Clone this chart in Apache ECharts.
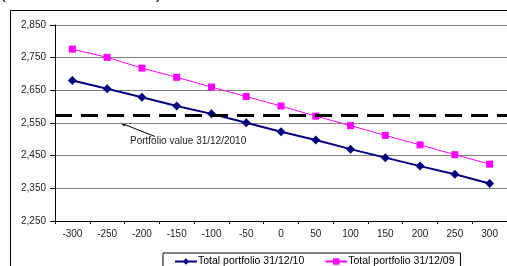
<!DOCTYPE html>
<html>
<head>
<meta charset="utf-8">
<script src="https://cdn.jsdelivr.net/npm/echarts@6/dist/echarts.min.js"></script>
<style>
  html, body { margin: 0; padding: 0; background: #fff; }
  #chart { width: 507px; height: 266px; }
</style>
</head>
<body>
<div id="chart"></div>
<script>
// shocks (USD millions) on the x axis
const shocks = ['-300', '-250', '-200', '-150', '-100', '-50', '0', '50', '100', '150', '200', '250', '300'];
// Total portfolio 31/12/10
const portfolio2010 = [2680, 2655, 2629, 2602, 2578, 2551, 2523, 2498, 2470, 2444, 2418, 2393, 2365];
// Total portfolio 31/12/09
const portfolio2009 = [2776, 2751, 2718, 2690, 2660, 2631, 2602, 2571, 2542, 2512, 2483, 2453, 2424];
// portfolio value reference line
const portfolioValue = 2574;
const yTicks = [2250, 2350, 2450, 2550, 2650, 2750, 2850];

const FONT = '"Liberation Sans", Arial, sans-serif';
const chart = echarts.init(document.getElementById('chart'));

chart.setOption({
  animation: false,
  grid: { left: 55, top: 25, width: 456, height: 196 },
  xAxis: {
    type: 'category',
    data: shocks,
    boundaryGap: true,
    axisLine: { lineStyle: { color: '#000', width: 1 } },
    axisTick: { show: true, length: 3, lineStyle: { color: '#000' } },
    axisLabel: { color: '#222', fontSize: 10, fontFamily: FONT, margin: 8 },
    splitLine: { show: false }
  },
  yAxis: {
    type: 'value',
    min: yTicks[0],
    max: yTicks[yTicks.length - 1],
    interval: 100,
    axisLine: { show: true, lineStyle: { color: '#000', width: 1 } },
    axisTick: { show: true, length: 5, inside: false, lineStyle: { color: '#000' } },
    axisLabel: {
      color: '#222', fontSize: 10, fontFamily: FONT, margin: 9,
      formatter: v => v.toLocaleString('en-US')
    },
    splitLine: { show: true, lineStyle: { color: '#808080', width: 1 } }
  },
  legend: {
    orient: 'horizontal',
    top: 253,
    left: 163,
    padding: [3, 6, 10, 11],
    itemGap: 20,
    itemWidth: 22,
    itemHeight: 8,
    borderColor: '#000',
    borderWidth: 1,
    borderRadius: 0,
    textStyle: { fontSize: 10.5, fontFamily: FONT, color: '#000', padding: [0, 0, 0, -4] },
    data: ['Total portfolio 31/12/10', 'Total portfolio 31/12/09']
  },
  graphic: [
    {
      type: 'rect', silent: true, z: -1,
      shape: { x: 10.5, y: 10.5, width: 520, height: 300 },
      style: { fill: 'none', stroke: '#000', lineWidth: 1 }
    },
    {
      type: 'text', x: 0, y: -14,
      style: { text: '(en millones de USD)', fontSize: 17, fontFamily: FONT, fill: '#000' }
    },
    {
      type: 'line',
      shape: { x1: 155, y1: 136.5, x2: 122, y2: 123.5 },
      style: { stroke: '#000', lineWidth: 1 }
    },
    {
      type: 'polygon',
      shape: { points: [[120, 122.7], [126, 123.3], [124.6, 126.6]] },
      style: { fill: '#000' }
    },
    {
      type: 'text', x: 130, y: 136,
      style: { text: 'Portfolio value 31/12/2010', fontSize: 10, fontFamily: FONT, fill: '#222' }
    }
  ],
  series: [
    {
      name: 'Total portfolio 31/12/10',
      type: 'line',
      data: portfolio2010,
      color: '#000080',
      symbol: 'diamond',
      symbolSize: 9,
      lineStyle: { color: '#000080', width: 2 },
      itemStyle: { color: '#000080' },
      z: 3
    },
    {
      name: 'Total portfolio 31/12/09',
      type: 'line',
      data: portfolio2009,
      color: '#ff00ff',
      symbol: 'rect',
      symbolSize: 7,
      lineStyle: { color: '#ff00ff', width: 1 },
      itemStyle: { color: '#ff00ff' },
      z: 3,
      markLine: {
        silent: true,
        symbol: 'none',
        label: { show: false },
        lineStyle: { color: '#000', width: 3, type: [17, 9] },
        data: [{ yAxis: portfolioValue }]
      }
    }
  ]
});
</script>
</body>
</html>
